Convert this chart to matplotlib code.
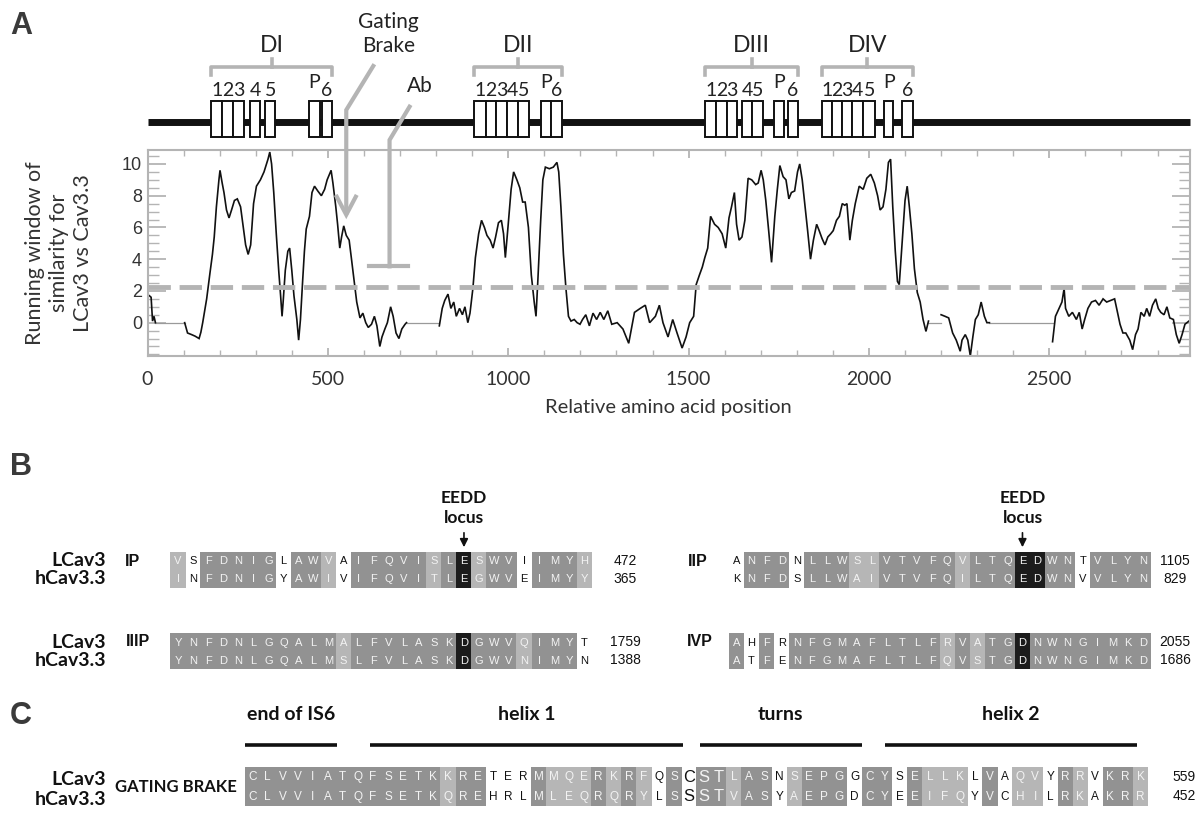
import numpy as np
import matplotlib
matplotlib.use('Agg')
import matplotlib.pyplot as plt
from matplotlib.patches import Rectangle
from matplotlib.ticker import MultipleLocator

# ---------------- data: panel A ----------------
# running similarity window (amino acid position, score), one list per stretch
trace_x = [
    [5, 10, 14, 18, 22],
    [103, 111, 122, 132, 143, 148, 153, 164, 173, 180, 185, 191, 198, 201, 207, 212, 219, 226, 233, 241,
     249, 258, 265, 272, 279, 286, 294, 302, 313, 323, 334, 339, 344, 350, 357, 364, 369, 373, 376, 382,
     389, 394, 400, 406, 414, 419, 424, 430, 435, 440, 449, 456, 463, 472, 482, 491, 498, 509, 514, 522,
     527, 533, 538, 544, 551, 559, 565, 573, 580, 589, 597, 605, 612, 621, 629, 636, 644, 650, 658, 665,
     674, 681, 689, 697, 705, 714, 718],
    [809, 817, 824, 833, 841, 849, 856, 865, 873, 880, 888, 894, 902, 909, 918, 926, 934, 941, 950, 958,
     965, 973, 981, 987, 992, 1000, 1008, 1015, 1024, 1032, 1040, 1047, 1056, 1064, 1072, 1077, 1082, 1090,
     1096, 1103, 1114, 1125, 1135, 1140, 1146, 1153, 1160, 1167, 1174, 1183, 1191, 1199, 1206, 1215, 1225,
     1235, 1245, 1255, 1265, 1276, 1287, 1302, 1318, 1334, 1350, 1366, 1380, 1392, 1408, 1419, 1429, 1443,
     1456, 1468, 1482, 1493, 1503, 1514, 1521, 1530, 1538, 1545, 1553, 1561, 1572, 1582, 1593, 1603, 1612,
     1619, 1627, 1633, 1640, 1648, 1656, 1665, 1675, 1686, 1693, 1701, 1707, 1714, 1722, 1730, 1739, 1746,
     1753, 1762, 1770, 1778, 1785, 1794, 1802, 1808, 1815, 1823, 1830, 1838, 1846, 1855, 1862, 1870, 1878,
     1886, 1894, 1901, 1910, 1918, 1926, 1933, 1939, 1947, 1954, 1962, 1973, 1984, 1994, 2005, 2015, 2024,
     2031, 2039, 2047, 2054, 2060, 2066, 2073, 2079, 2084, 2091, 2100, 2106, 2112, 2119, 2126, 2134, 2142,
     2150, 2158, 2165],
    [2200, 2211, 2221, 2232, 2242, 2253, 2258, 2267, 2274, 2281, 2288, 2295, 2303, 2311, 2320, 2327, 2334],
    [2509, 2517, 2527, 2535, 2541, 2545, 2554, 2564, 2575, 2583, 2591, 2598, 2607, 2617, 2628, 2638, 2649,
     2659, 2670, 2681, 2689, 2696, 2704, 2712, 2723, 2731, 2739, 2746, 2754, 2763, 2770, 2778, 2786, 2795,
     2802, 2809, 2818, 2826, 2834, 2844, 2852, 2860, 2868, 2876, 2887],
]
trace_y = [
    [1.7, 1.6, 0.1, 0.4, 0.0],
    [0.0, -0.65, -0.75, -0.85, -1.0, -0.6, 0.0, 1.5, 3.1, 4.3, 5.4, 7.3, 9.0, 9.6, 8.8, 8.2, 7.1, 6.6, 7.1, 7.7,
     7.8, 7.3, 6.1, 4.9, 4.3, 4.9, 7.5, 8.6, 9.0, 9.5, 10.3, 10.75, 10.0, 8.2, 5.6, 3.2, 1.7, 0.4, 1.3, 3.3,
     4.5, 4.7, 3.3, 1.7, 0.2, -1.1, 0.2, 2.6, 4.5, 5.9, 6.7, 8.2, 8.6, 8.3, 8.0, 8.4, 9.0, 9.6, 8.8, 7.3,
     6.2, 4.7, 5.4, 6.1, 5.5, 5.2, 4.1, 2.6, 1.3, 0.3, 0.6, 0.0, -0.3, -0.1, 0.4, -0.2, -1.5, -0.9, -0.4, 0.0,
     1.0, 0.4, -0.65, -1.0, -0.4, -0.1, 0.0],
    [-0.2, 0.9, 1.4, 1.8, 0.9, 1.3, 0.4, 0.9, 0.5, 1.0, 0.0, 0.6, 2.15, 4.1, 5.6, 6.45, 6.0, 5.5, 5.2, 4.7,
     5.4, 6.3, 6.45, 5.6, 4.1, 6.2, 8.4, 9.5, 9.0, 8.5, 7.6, 7.6, 6.0, 3.0, 1.3, 0.4, 2.6, 6.45,
     9.0, 9.8, 9.7, 9.8, 10.1, 9.5, 7.3, 4.3, 2.15, 0.4, 0.1, 0.2, 0.0, -0.1, 0.2, 0.5, -0.2,
     0.6, 0.2, 0.65, 0.2, 0.75, -0.1, 0.0, -0.4, -1.3, 0.65, 0.9, 1.1, 0.0, 0.4, 1.1, 0.0, -0.9,
     0.2, -0.65, -1.6, -0.9, 0.0, 0.4, 2.4, 3.0, 3.5, 4.1, 4.7, 6.7, 6.2, 6.0, 5.6, 4.7, 6.6,
     7.3, 8.2, 6.2, 5.2, 5.4, 6.45, 9.1, 9.0, 8.7, 8.8, 9.6, 9.0, 7.7, 5.8, 3.8, 6.7, 8.4,
     9.9, 9.2, 9.0, 7.8, 8.2, 8.3, 9.5, 10.0, 9.0, 7.3, 5.8, 4.0, 5.2, 6.2, 5.8, 5.3, 4.9,
     5.4, 5.6, 5.8, 6.45, 6.7, 7.5, 7.4, 7.5, 5.2, 6.45, 7.5, 8.6, 8.4, 9.1, 9.35, 8.8, 8.0,
     7.1, 7.3, 8.4, 10.1, 10.3, 7.3, 4.5, 2.6, 2.4, 4.7, 7.7, 8.6, 7.3, 5.6, 3.4, 1.9, 1.3,
     0.2, -0.55, 0.1],
    [0.5, 0.4, 0.3, -0.65, -1.1, -1.8, -1.1, -0.75, -1.1, -2.1, -0.9, 0.2, 0.5, 1.3, 0.4, 0.0, 0.0],
    [-1.2, 0.4, 0.9, 1.3, 2.15, 0.9, 0.4, 0.65, 0.2, 0.65, -0.4, 0.2, 0.9, 1.3, 1.4, 1.1, 1.5,
     1.3, 1.4, 1.5, 0.65, -0.1, -0.65, -0.65, -1.1, -1.7, -0.75, -0.4, 0.65, 0.4, 0.9, 0.4, 1.1, 1.5,
     0.9, 0.65, 0.5, 1.0, 0.3, 0.2, -0.75, -1.3, -0.75, -0.1, 0.1],
]
gap_ranges = [(22, 103), (718, 809), (2165, 2200), (2334, 2509)]
threshold = 2.25

dom_names = ['DI', 'DII', 'DIII', 'DIV']
seg_labels = ['1', '2', '3', '4', '5', 'P', '6']
seg_starts = [[177, 207, 238, 283, 327, 448, 484],
              [905, 937, 966, 997, 1028, 1090, 1119],
              [1545, 1577, 1607, 1648, 1677, 1737, 1775],
              [1869, 1897, 1925, 1954, 1984, 2042, 2092]]
seg_ends = [[207, 238, 267, 313, 353, 477, 511],
            [937, 966, 997, 1028, 1058, 1119, 1149],
            [1577, 1607, 1635, 1677, 1706, 1764, 1804],
            [1897, 1925, 1954, 1984, 2017, 2068, 2121]]
brake_pos, brake_score = 551, 6.8
ab_pos, ab_score = 671, 3.55

# ---------------- data: panels B and C ----------------
# shade codes: d identical, s similar, k EEDD locus, w unshaded
blk_names = ['IP', 'IIP', 'IIIP', 'IVP']
blk_lcav = ['VSFDNIGLAWVAIFQVISLESWVIIMYH', 'ANFDNLLWSLVTVFQVLTQEDWNTVLYN',
            'YNFDNLGQALMALFVLASKDGWVQIMYT', 'AHFRNFGMAFLTLFRVATGDNWNGIMKD']
blk_hcav = ['INFDNIGYAWIVIFQVITLEGWVEIMYY', 'KNFDSLLWAIVTVFQILTQEDWNVVLYN',
            'YNFDNLGQALMSLFVLASKDGWVNIMYN', 'ATFENFGMAFLTLFQVSTGDNWNGIMKD']
blk_shade = ['swdddddwddswdddddsdksddwddds', 'wdddwdddssdddddsdddkkddwdddd',
             'dddddddddddsdddddddkdddsdddw', 'dwdwddddddddddsdsddkdddddddd']
blk_num_l = ['472', '1105', '1759', '2055']
blk_num_h = ['365', '829', '1388', '1686']
eedd_col = [19, 19]

gb_lcav = 'CLVVIATQFSETKKRETERMMQERKRFQSCSTLASNSEPGGCYSELLKLVAQVYRRVKRK'
gb_hcav = 'CLVVIATQFSETKQREHRLMLEQRQRYLSSSTVASYAEPGDCYEEIFQYVCHILRKAKRR'
gb_shade = 'dddddddddddddsddwwwdsssdsdswdwddsddwsdddwddwdssswdwsswdswdds'
gb_big = [29, 30, 31]
gb_num = ['559', '452']
gb_regions = ['end of IS6', 'helix 1', 'turns', 'helix 2']
gb_spans = [(0.0, 6.1), (8.3, 29.1), (30.2, 41.0), (42.5, 59.3)]

cal = ['Lato', 'DejaVu Sans']
ari = ['Liberation Sans', 'DejaVu Sans']
nar = ['Liberation Sans Narrow', 'Liberation Sans', 'DejaVu Sans']
grey = '#b4b4b4'
txt = '#333333'
cell_col = {'d': '#929292', 's': '#b6b6b6', 'k': '#1c1c1c'}

W, H = 1197, 819
fig = plt.figure(figsize=(W / 100, H / 100), dpi=100)

L, R, T, B = 147.5, 1190, 150, 356
ax = fig.add_axes([L / W, 1 - B / H, (R - L) / W, (B - T) / H])
ax.set_xlim(0, 2890)
ax.set_ylim(-2.1, 10.88)

cv = fig.add_axes([0, 0, 1, 1])
cv.set_xlim(0, W)
cv.set_ylim(H, 0)
cv.axis('off')
cv.set_zorder(5)
cv.patch.set_alpha(0)


def px(x, y=0):
    d = ax.transData.transform((x, y))
    return cv.transData.inverted().transform(d)


# ---- trace ----
for gx0, gx1 in gap_ranges:
    ax.plot([gx0, gx1], [0, 0], color='#9a9a9a', lw=0.9)
for xs, ys in zip(trace_x, trace_y):
    ax.plot(xs, ys, color='#111111', lw=1.2, solid_joinstyle='miter')
ax.axhline(threshold, color=grey, lw=3.5, dashes=(4.6, 1.8))

ax.xaxis.set_major_locator(MultipleLocator(500))
ax.xaxis.set_minor_locator(MultipleLocator(100))
ax.set_yticks([0, 2, 4, 6, 8, 10])
ax.yaxis.set_minor_locator(MultipleLocator(0.5))
ax.tick_params(which='both', direction='in', top=True, right=True, color=grey, labelcolor=txt)
ax.tick_params(axis='y', which='major', length=13, width=1.3, pad=4, labelsize=13)
ax.tick_params(axis='y', which='minor', length=8, width=1.0)
ax.tick_params(axis='x', which='major', length=6, width=1.3, pad=11, labelsize=14)
ax.tick_params(axis='x', which='minor', length=4, width=1.0)
for lab in ax.get_yticklabels():
    lab.set_family(ari)
for lab in ax.get_xticklabels():
    lab.set_family(cal)
for sp in ax.spines.values():
    sp.set_color(grey)
    sp.set_linewidth(1.5)
ax.set_xlabel('Relative amino acid position', fontsize=14.5, family=cal, color=txt, labelpad=8)
ax.set_ylabel('Running window of\nsimilarity for\nLCav3 vs Cav3.3', fontsize=15.5, family=cal,
              color=txt, linespacing=1.25)
ax.yaxis.set_label_coords(-0.085, 0.5)
ax.yaxis.label.set_va('center')

# ---- domain diagram ----
cv.plot([px(0)[0], px(2890)[0]], [121.7, 121.7], color='#111111', lw=5, solid_capstyle='butt', zorder=1)
for name, st, en in zip(dom_names, seg_starts, seg_ends):
    for lab, s, e in zip(seg_labels, st, en):
        x0, x1 = px(s)[0], px(e)[0]
        cv.add_patch(Rectangle((x0, 101), x1 - x0, 36, fc='white', ec='#111111', lw=1.4, zorder=2))
        cv.text((x0 + x1) / 2, 83 if lab == 'P' else 90, lab, ha='center', va='center',
                fontsize=14, family=cal, color='#222222')
    b0, b1 = px(st[0])[0], px(en[-1])[0]
    bm = (b0 + b1) / 2
    cv.plot([b0, b0, b1, b1], [75, 67, 67, 75], color=grey, lw=2.6, solid_joinstyle='round')
    cv.plot([bm, bm], [67, 59], color=grey, lw=2.6)
    cv.text(bm, 45, name, ha='center', va='center', fontsize=16.5, family=cal, color='#222222')

# gating brake arrow
gx, gy = px(brake_pos, brake_score)
cv.plot([gx + 27, gx, gx], [66, 110, gy - 2], color=grey, lw=3, solid_joinstyle='miter')
cv.plot([gx - 9.5, gx, gx + 9.5], [gy - 18, gy, gy - 18], color=grey, lw=3, solid_joinstyle='miter')
cv.text(gx + 42, 34, 'Gating\nBrake', ha='center', va='center', fontsize=15, family=cal,
        color='#222222', linespacing=1.2)
# antibody epitope
abx, aby = px(ab_pos, ab_score)
cv.plot([abx + 20, abx, abx], [106.7, 140, aby], color=grey, lw=3, solid_joinstyle='miter')
cv.plot([abx - 21, abx + 18], [aby, aby], color=grey, lw=3)
cv.text(abx + 30, 86, 'Ab', ha='center', va='center', fontsize=15, family=cal, color='#222222')

# ---- panel letters ----
for lab, y in zip('ABC', [26, 467, 716]):
    cv.text(10, y, lab, ha='left', va='center', fontsize=22, fontweight='bold', family=ari, color='#3a3a3a')

# ---- alignments ----
colw = 15.05


def block(x0, top, rowh, seq_l, seq_h, shade, big=(), fs=8.0):
    for r, seq in enumerate((seq_l, seq_h)):
        y = top + r * rowh
        for i, ch in enumerate(seq):
            s = shade[i]
            x = x0 + i * colw
            if s != 'w':
                cv.add_patch(Rectangle((x - 0.2, y - 0.2), colw + 0.4, rowh + 0.4, fc=cell_col[s],
                                       ec='none', lw=0))
            size = fs * 1.4 if i in big else fs
            cv.text(x + colw / 2, y + rowh / 2 + 0.5, ch, ha='center', va='center', fontsize=size,
                    family=ari, color='#f3f3f3' if s != 'w' else '#111111')


rowh_b = 18
blk_x0 = [170.5, 729, 170.5, 729]
blk_top = [552, 552, 633, 633]
blk_lab_x = [133, 698, 138, 700]
blk_num_x = [625, 1175, 625, 1175]
for k in range(4):
    block(blk_x0[k], blk_top[k], rowh_b, blk_lcav[k], blk_hcav[k], blk_shade[k])
    yc = blk_top[k] + rowh_b / 2
    cv.text(blk_lab_x[k], yc, blk_names[k], ha='center', va='center', fontsize=11.5, fontweight='bold',
            family=nar, color='#111111')
    cv.text(blk_num_x[k], yc, blk_num_l[k], ha='center', va='center', fontsize=10, family=nar, color='#111111')
    cv.text(blk_num_x[k], yc + rowh_b, blk_num_h[k], ha='center', va='center', fontsize=10, family=nar,
            color='#111111')
    if k in (0, 2):
        cv.text(106, yc, 'LCav3', ha='right', va='center', fontsize=14, fontweight='bold', family=cal,
                color='#111111')
        cv.text(106, yc + rowh_b, 'hCav3.3', ha='right', va='center', fontsize=14, fontweight='bold',
                family=cal, color='#111111')

for k in range(2):
    xa = blk_x0[k] + (eedd_col[k] + 0.5) * colw
    cv.annotate('', xy=(xa, blk_top[k] - 2), xytext=(xa, 530),
                arrowprops=dict(arrowstyle='-|>', color='#111111', lw=1.2, mutation_scale=12))
    cv.text(xa, 508, 'EEDD\nlocus', ha='center', va='center', fontsize=12.5, fontweight='bold', family=cal,
            color='#111111', linespacing=1.3)

# gating brake alignment
gb_x0, gb_top, rowh_c = 245, 767, 19.5
block(gb_x0, gb_top, rowh_c, gb_lcav, gb_hcav, gb_shade, big=gb_big, fs=8.5)
cv.text(106, gb_top + rowh_c / 2 + 3, 'LCav3', ha='right', va='center', fontsize=14, fontweight='bold',
        family=cal, color='#111111')
cv.text(106, gb_top + rowh_c * 1.5 + 3, 'hCav3.3', ha='right', va='center', fontsize=14, fontweight='bold',
        family=cal, color='#111111')
cv.text(237, gb_top + rowh_c + 1, 'GATING BRAKE', ha='right', va='center', fontsize=12, fontweight='bold',
        family=cal, color='#111111')
for r in range(2):
    cv.text(1184, gb_top + rowh_c * (r + 0.5), gb_num[r], ha='center', va='center', fontsize=10, family=nar,
            color='#111111')
for name, (c0, c1) in zip(gb_regions, gb_spans):
    xa, xb = gb_x0 + c0 * colw, gb_x0 + c1 * colw
    cv.plot([xa, xb], [745, 745], color='#111111', lw=2.6, solid_capstyle='butt')
    cv.text((xa + xb) / 2, 714, name, ha='center', va='center', fontsize=14, fontweight='bold', family=cal,
            color='#111111')

fig.savefig('out.png', dpi=100)
